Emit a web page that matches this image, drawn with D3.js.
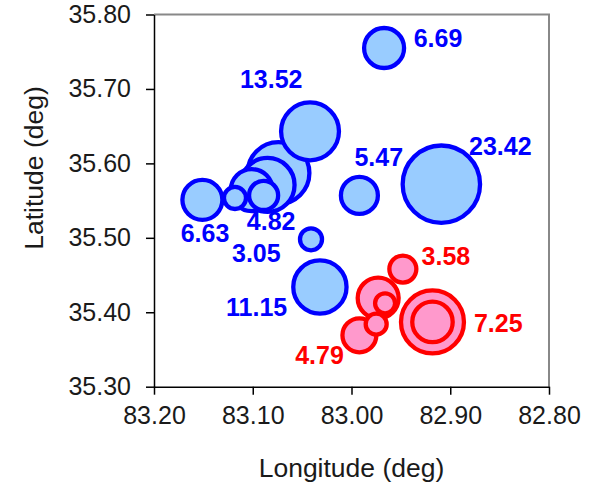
<!DOCTYPE html>
<html>
<head>
<meta charset="utf-8">
<script src="https://cdn.jsdelivr.net/npm/d3@7"></script>
<style>
  html, body { margin: 0; padding: 0; background: #ffffff; }
  svg { display: block; font-family: "Liberation Sans", Arial, sans-serif; }
</style>
</head>
<body>
<svg id="chart" width="601" height="487"></svg>
<script>
// ---- data ----
const xTicks = [83.20, 83.10, 83.00, 82.90, 82.80];
const yTicks = [35.30, 35.40, 35.50, 35.60, 35.70, 35.80];

// blue series (drawing order)
const blueLon  = [83.074, 83.085, 83.101, 83.042, 82.909, 83.032, 82.967, 82.992, 83.118, 83.151, 83.089, 83.041];
const blueLat  = [35.587, 35.571, 35.564, 35.643, 35.572, 35.434, 35.755, 35.557, 35.5535, 35.551, 35.557, 35.498];
const blueSize = [15.0, 11.4, 6.9, 13.1, 23.42, 11.1, 6.25, 5.35, 1.9, 6.25, 3.3, 1.9];

// red series (drawing order)
const redLon  = [82.918, 82.918, 82.973, 82.992, 82.948, 82.966, 82.975];
const redLat  = [35.387, 35.387, 35.419, 35.369, 35.458, 35.412, 35.384];
const redSize = [15.5, 6.4, 6.55, 4.5, 2.85, 1.56, 1.72];

// value labels
const labelText   = ["6.69", "13.52", "23.42", "5.47", "6.63", "4.82", "3.05", "11.15", "3.58", "7.25", "4.79"];
const labelLon    = [82.937, 83.113, 82.881, 82.997, 83.173, 83.106, 83.121, 83.127, 82.929, 82.876, 83.057];
const labelLat    = [35.756, 35.701, 35.611, 35.596, 35.495, 35.510, 35.468, 35.395, 35.463, 35.374, 35.330];
const labelSeries = ["blue", "blue", "blue", "blue", "blue", "blue", "blue", "blue", "red", "red", "red"];

const xTitle = "Longitude (deg)";
const yTitle = "Latitude (deg)";

// ---- drawing ----
const svg = d3.select("#chart");
const pLeft = 154, pRight = 549, pTop = 14.5, pBottom = 386.7;

const x = d3.scaleLinear().domain([83.20, 82.80]).range([pLeft, pRight]);
const y = d3.scaleLinear().domain([35.30, 35.80]).range([pBottom, pTop]);
const r = d3.scaleSqrt().domain([0, 23.42]).range([0, 38.7]);

const colors = {
  blue: { stroke: "#0000ff", fill: "#99ccff" },
  red:  { stroke: "#ff0000", fill: "#ff99cc" }
};

// plot frame (top/right grey)
svg.append("path")
  .attr("d", `M${pLeft},${pTop}H${pRight}V${pBottom}`)
  .attr("fill", "none")
  .attr("stroke", "#888888")
  .attr("stroke-width", 2);

// axes
const fmt = d3.format(".2f");
const xAxis = svg.append("g")
  .attr("transform", `translate(0,${pBottom})`)
  .call(d3.axisBottom(x).tickValues(xTicks).tickFormat(fmt).tickSize(8).tickSizeOuter(0).tickPadding(12));
const yAxis = svg.append("g")
  .attr("transform", `translate(${pLeft},0)`)
  .call(d3.axisLeft(y).tickValues(yTicks).tickFormat(fmt).tickSize(8).tickSizeOuter(0).tickPadding(15));

[xAxis, yAxis].forEach(g => {
  g.select(".domain").attr("stroke", "#000").attr("stroke-width", 1.5);
  g.selectAll(".tick line").attr("stroke", "#000").attr("stroke-width", 1.5);
  g.selectAll(".tick text")
    .attr("fill", "#1a1a1a")
    .style("font-family", "'Liberation Sans', Arial, sans-serif")
    .style("font-size", "25px");
});

// bubbles
function drawSeries(lon, lat, size, key) {
  const data = lon.map((d, i) => ({ lon: d, lat: lat[i], size: size[i] }));
  svg.append("g").selectAll("circle")
    .data(data)
    .join("circle")
    .attr("cx", d => x(d.lon))
    .attr("cy", d => y(d.lat))
    .attr("r", d => r(d.size))
    .attr("fill", colors[key].fill)
    .attr("stroke", colors[key].stroke)
    .attr("stroke-width", 4.3);
}
drawSeries(blueLon, blueLat, blueSize, "blue");
drawSeries(redLon, redLat, redSize, "red");

// value labels
svg.append("g").selectAll("text")
  .data(labelText.map((t, i) => ({ t, lon: labelLon[i], lat: labelLat[i], s: labelSeries[i] })))
  .join("text")
  .attr("x", d => x(d.lon))
  .attr("y", d => y(d.lat))
  .attr("fill", d => colors[d.s].stroke)
  .style("font-size", "25px")
  .style("font-weight", "bold")
  .text(d => d.t);

// axis titles
svg.append("text")
  .attr("x", (pLeft + pRight) / 2)
  .attr("y", 477)
  .attr("text-anchor", "middle")
  .attr("fill", "#1a1a1a")
  .style("font-size", "26.5px")
  .text(xTitle);

svg.append("text")
  .attr("transform", `translate(43,168) rotate(-90)`)
  .attr("text-anchor", "middle")
  .attr("fill", "#1a1a1a")
  .style("font-size", "26.5px")
  .text(yTitle);
</script>
</body>
</html>
